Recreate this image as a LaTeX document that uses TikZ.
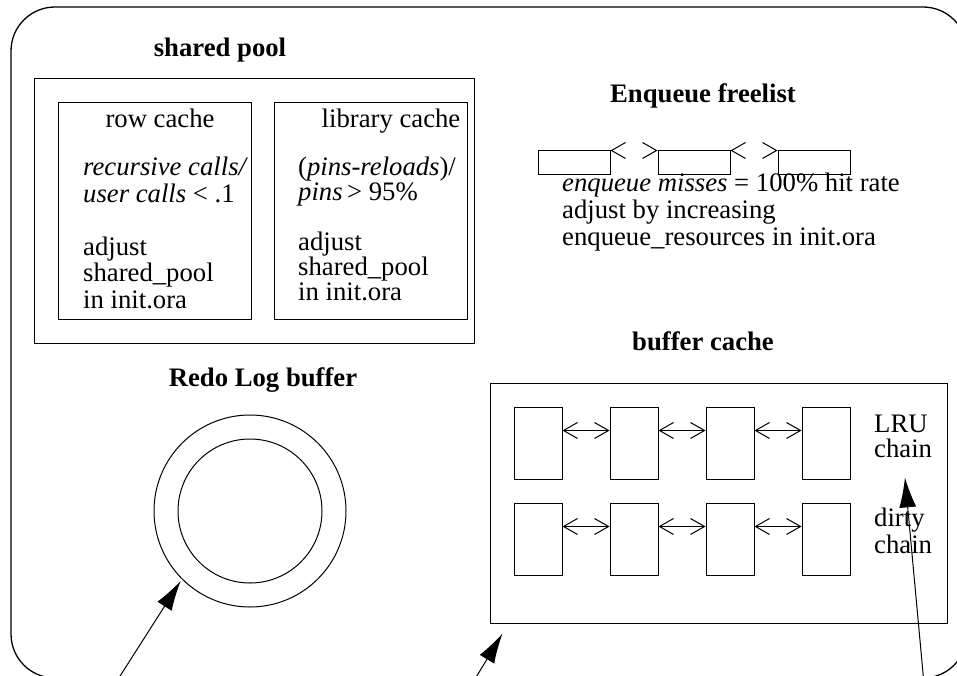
\documentclass[tikz,border=0pt]{standalone}
\usepackage{fontspec}
\setmainfont{Liberation Serif}
\usetikzlibrary{arrows.meta,positioning}

\begin{document}
\begin{tikzpicture}[
        x=1pt, y=-1pt,
        every node/.style={inner sep=0pt, font=\fontsize{26.7}{26.5}\selectfont},
        title/.style={anchor=base, font=\fontsize{26.7}{26.5}\selectfont\bfseries},
        body/.style={anchor=base west, align=left},
        cell/.style={draw, line width=1pt, minimum width=48pt, minimum height=72pt},
        flcell/.style={draw, line width=1pt, minimum width=72pt, minimum height=24pt},
        link/.style={line width=1pt, {Straight Barb[length=14pt,width=16pt]}-{Straight Barb[length=14pt,width=16pt]}},
        hidlink/.style={link, draw=white, {Straight Barb[length=14pt,width=16pt,color=black]}-{Straight Barb[length=14pt,width=16pt,color=black]}},
        pointer/.style={line width=1pt, -{Latex[length=30pt,width=17pt]}}
    ]
                        \useasboundingbox (0, 0) rectangle (957, 676);
                        \clip (0, 0) rectangle (957, 676);
                        \draw[line width=1.3pt, rounded corners=44pt] (11, 7) rectangle (967, 678);

                        \node[title] (sptitle) at (220, 57) {shared pool};
                        \draw[line width=1pt] (34, 79) rectangle (474, 343);
                        \draw[line width=1pt] (58, 103) rectangle (251, 319);
                        \draw[line width=1pt] (274, 103) rectangle (467, 319);
                        \node[anchor=base] (rowtitle) at (160, 128) {row cache};
                        \node[body] (rowtext) at (83, 308) {\textit{recursive calls/}\\\textit{user calls} < .1\\[26.5pt]adjust\\shared\_pool\\in init.ora};
                        \node[anchor=base] (libtitle) at (391, 128) {library cache};
                        \node[body, font=\fontsize{26.7}{25}\selectfont] (libtext) at (298, 300) {(\textit{pins-reloads})/\\\textit{pins}\,> 95\%\\[25pt]adjust\\shared\_pool\\in init.ora};

                        \node[title] (eqtitle) at (703, 103) {Enqueue freelist};
                        \node[flcell] (fl1) at (574, 163) {};
                        \node[flcell] (fl2) at (694, 163) {};
                        \node[flcell] (fl3) at (814, 163) {};
                        \draw[hidlink] (fl1.north east) -- (fl2.north west);
                        \draw[hidlink] (fl2.north east) -- (fl3.north west);
                        \node[body, font=\fontsize{26.7}{27}\selectfont] (eqtext) at (562, 245) {\textit{enqueue misses} = 100\% hit rate\\adjust by increasing\\enqueue\_resources in init.ora};

                        \node[title] (redotitle) at (263, 386) {Redo Log buffer};
                        \node[draw, line width=1pt, circle, minimum size=192pt] (redo) at (250, 511) {};
                        \node[draw, line width=1pt, circle, minimum size=144pt] (redocore) at (250, 511) {};

                        \node[title] (buftitle) at (703, 350) {buffer cache};
                        \node[draw, line width=1pt, minimum width=457pt, minimum height=240pt] (bufcache) at (718.5, 503) {};
                        \node[cell] (lru1) at (538, 443) {};
                        \node[cell] (lru2) at (634, 443) {};
                        \node[cell] (lru3) at (730, 443) {};
                        \node[cell] (lru4) at (826, 443) {};
                        \node[cell] (dirty1) at (538, 539) {};
                        \node[cell] (dirty2) at (634, 539) {};
                        \node[cell] (dirty3) at (730, 539) {};
                        \node[cell] (dirty4) at (826, 539) {};
                        \draw[link] ([yshift=-24pt]lru1.north east) -- ([yshift=-24pt]lru2.north west);
                        \draw[link] ([yshift=-24pt]lru2.north east) -- ([yshift=-24pt]lru3.north west);
                        \draw[link] ([yshift=-24pt]lru3.north east) -- ([yshift=-24pt]lru4.north west);
                        \draw[link] ([yshift=-24pt]dirty1.north east) -- ([yshift=-24pt]dirty2.north west);
                        \draw[link] ([yshift=-24pt]dirty2.north east) -- ([yshift=-24pt]dirty3.north west);
                        \draw[link] ([yshift=-24pt]dirty3.north east) -- ([yshift=-24pt]dirty4.north west);
                        \node[body, font=\fontsize{26.7}{25}\selectfont] (lru) at (874, 457) {LRU\\chain};
                        \node[body] (dirty) at (874, 553) {dirty\\chain};

                        \coordinate (redofoot) at (115, 684);
                        \coordinate (buffoot) at (472, 684);
                        \coordinate (lrufoot) at (924, 684);
                        \draw[pointer, shorten >=2pt] (redofoot) -- (redo.225);
                        \draw[pointer] (buffoot) -- ([shift={(13pt,-10pt)}]bufcache.south west);
                        \draw[pointer, shorten >=20pt] (lrufoot) -- (lru.south);
                    \end{tikzpicture}
\end{document}
